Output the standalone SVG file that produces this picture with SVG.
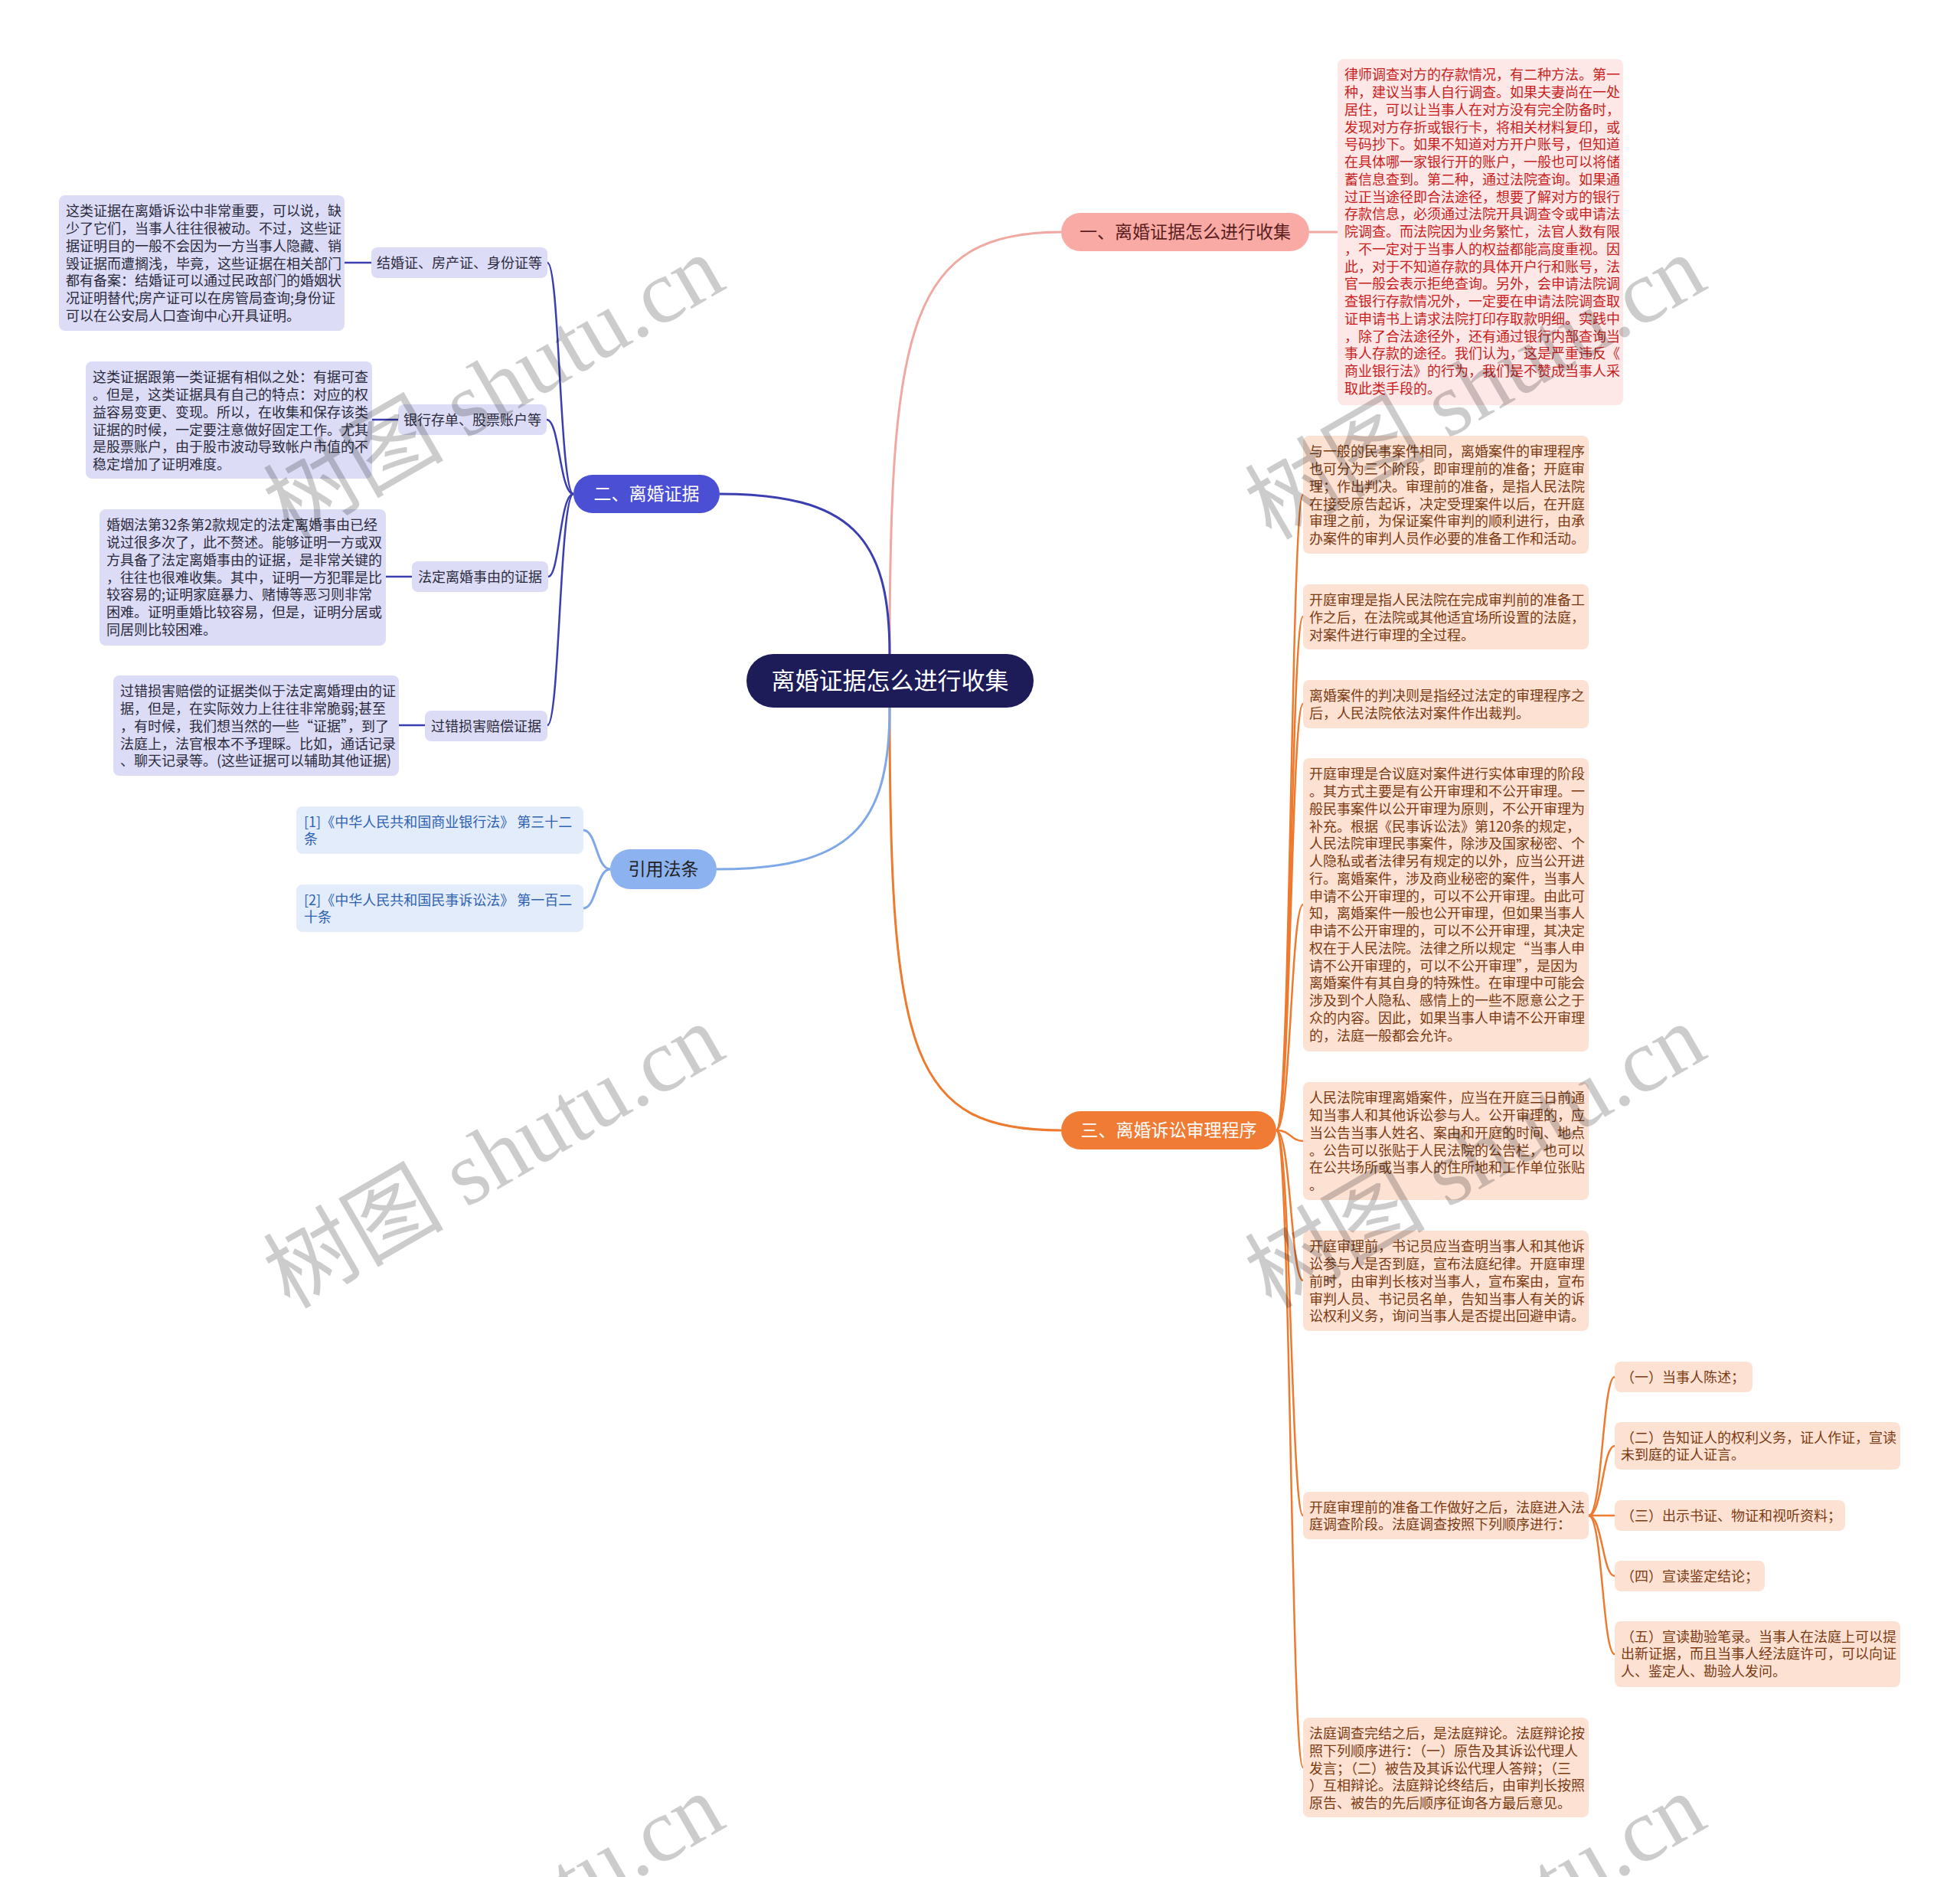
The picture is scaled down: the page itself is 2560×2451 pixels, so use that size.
<svg xmlns="http://www.w3.org/2000/svg" width="2560" height="2451" viewBox="0 0 2560 2451">
<style>
text{font-family:"Noto Sans CJK SC","Liberation Sans",sans-serif;}
.t18{font-size:18px;}
.lv{fill:#dcdcf6;}
.lvt{fill:#2b2b3d;}
.rd{fill:#fde8e7;}
.rdt{fill:#c81e1e;}
.or{fill:#fde2d4;}
.ort{fill:#7b3a12;}
.lb{fill:#e3ecfb;}
.lbt{fill:#2f63b0;}
.br{font-size:23px;}
.c-pink{fill:none;stroke:#f0a9a2;stroke-width:3;}
.c-ind{fill:none;stroke:#3a3eb0;stroke-width:3;}
.c-ind2{fill:none;stroke:#3a3eb0;stroke-width:2.5;}
.c-lb{fill:none;stroke:#7fa8e8;stroke-width:3;}
.c-or{fill:none;stroke:#ee7a2f;stroke-width:3;}
.c-or2{fill:none;stroke:#ee7a2f;stroke-width:2.5;}
.wm{font-family:"Liberation Serif","Noto Sans CJK SC",serif;font-size:118px;fill:#000;fill-opacity:0.2;}
</style>
<rect width="2560" height="2451" fill="#ffffff"/>

<g id="connectors">
<path class="c-pink" d="M1162 854 C1162 420,1190 303,1386 303"/>
<path class="c-or" d="M1162 924 C1162 1380,1190 1476,1386 1476"/>
<path class="c-ind" d="M940 645 C1110 645,1162 700,1162 854"/>
<path class="c-lb" d="M936 1135 C1110 1135,1162 1080,1162 924"/>
<path class="c-pink" d="M1710 303 L1747 303"/>
<path class="c-ind2" d="M749 645 C731 645,731 343,715 343"/>
<path class="c-ind2" d="M749 645 C731 645,731 548,714 548"/>
<path class="c-ind2" d="M749 645 C731 645,731 753,716 753"/>
<path class="c-ind2" d="M749 645 C731 645,731 947,715 947"/>
<path class="c-ind2" d="M450 343 L485 343"/>
<path class="c-ind2" d="M486 548 L520 548"/>
<path class="c-ind2" d="M504 753 L538 753"/>
<path class="c-ind2" d="M521 947 L555 947"/>
<path class="c-lb" d="M797 1135 C779 1135,779 1084,762 1084"/>
<path class="c-lb" d="M797 1135 C779 1135,779 1186,762 1186"/>
<path class="c-or2" d="M1667 1476 C1686 1476,1686 646,1702 646"/>
<path class="c-or2" d="M1667 1476 C1686 1476,1686 805,1702 805"/>
<path class="c-or2" d="M1667 1476 C1686 1476,1686 919,1702 919"/>
<path class="c-or2" d="M1667 1476 C1686 1476,1686 1181,1702 1181"/>
<path class="c-or2" d="M1667 1476 C1686 1476,1686 1490,1702 1490"/>
<path class="c-or2" d="M1667 1476 C1686 1476,1686 1672,1702 1672"/>
<path class="c-or2" d="M1667 1476 C1686 1476,1686 1979,1702 1979"/>
<path class="c-or2" d="M1667 1476 C1686 1476,1686 2308,1702 2308"/>
<path class="c-or2" d="M2075 1979 C2093 1979,2093 1798,2109 1798"/>
<path class="c-or2" d="M2075 1979 C2093 1979,2093 1888,2109 1888"/>
<path class="c-or2" d="M2075 1979 L2109 1979"/>
<path class="c-or2" d="M2075 1979 C2093 1979,2093 2058,2109 2058"/>
<path class="c-or2" d="M2075 1979 C2093 1979,2093 2160,2109 2160"/>
</g>

<g id="center">
<rect x="975" y="854" width="375" height="70" rx="35" fill="#1d1b58"/>
<text x="1162.5" y="900" font-size="31" fill="#ffffff" text-anchor="middle">离婚证据怎么进行收集</text>
</g>

<g id="branch1">
<rect x="1386" y="278" width="324" height="50" rx="25" fill="#f9aaa5"/>
<text class="br" x="1548" y="311.3" fill="#5a1e1e" text-anchor="middle">一、离婚证据怎么进行收集</text>
</g>
<g id="branch2">
<rect x="749" y="620" width="191" height="50" rx="25" fill="#4b4fd4"/>
<text class="br" x="844.5" y="653.3" fill="#ffffff" text-anchor="middle">二、离婚证据</text>
</g>
<g id="branch3">
<rect x="797" y="1109" width="139" height="52" rx="26" fill="#8cb2ef"/>
<text class="br" x="866.5" y="1143.3" fill="#222222" text-anchor="middle">引用法条</text>
</g>
<g id="branch4">
<rect x="1386" y="1451" width="281" height="50" rx="25" fill="#f07b34"/>
<text class="br" x="1526.5" y="1484.3" fill="#ffffff" text-anchor="middle">三、离婚诉讼审理程序</text>
</g>

<g id="leaf-bank">
<rect class="rd" x="1747" y="77" width="373" height="452" rx="8"/>
<text class="t18 rdt"><tspan x="1756" y="104.3">律师调查对方的存款情况，有二种方法。第一</tspan><tspan x="1756" dy="22.75">种，建议当事人自行调查。如果夫妻尚在一处</tspan><tspan x="1756" dy="22.75">居住，可以让当事人在对方没有完全防备时，</tspan><tspan x="1756" dy="22.75">发现对方存折或银行卡，将相关材料复印，或</tspan><tspan x="1756" dy="22.75">号码抄下。如果不知道对方开户账号，但知道</tspan><tspan x="1756" dy="22.75">在具体哪一家银行开的账户，一般也可以将储</tspan><tspan x="1756" dy="22.75">蓄信息查到。第二种，通过法院查询。如果通</tspan><tspan x="1756" dy="22.75">过正当途径即合法途径，想要了解对方的银行</tspan><tspan x="1756" dy="22.75">存款信息，必须通过法院开具调查令或申请法</tspan><tspan x="1756" dy="22.75">院调查。而法院因为业务繁忙，法官人数有限</tspan><tspan x="1756" dy="22.75">，不一定对于当事人的权益都能高度重视。因</tspan><tspan x="1756" dy="22.75">此，对于不知道存款的具体开户行和账号，法</tspan><tspan x="1756" dy="22.75">官一般会表示拒绝查询。另外，会申请法院调</tspan><tspan x="1756" dy="22.75">查银行存款情况外，一定要在申请法院调查取</tspan><tspan x="1756" dy="22.75">证申请书上请求法院打印存取款明细。实践中</tspan><tspan x="1756" dy="22.75">，除了合法途径外，还有通过银行内部查询当</tspan><tspan x="1756" dy="22.75">事人存款的途径。我们认为，这是严重违反《</tspan><tspan x="1756" dy="22.75">商业银行法》的行为，我们是不赞成当事人采</tspan><tspan x="1756" dy="22.75">取此类手段的。</tspan></text>
</g>

<g id="sub-marriage">
<rect class="lv" x="485" y="323" width="230" height="40" rx="8"/>
<text class="t18 lvt" x="600" y="349.5" text-anchor="middle">结婚证、房产证、身份证等</text>
</g>
<g id="leaf-marriage">
<rect class="lv" x="77" y="255" width="373" height="177" rx="8"/>
<text class="t18 lvt"><tspan x="86" y="282.3">这类证据在离婚诉讼中非常重要，可以说，缺</tspan><tspan x="86" dy="22.75">少了它们，当事人往往很被动。不过，这些证</tspan><tspan x="86" dy="22.75">据证明目的一般不会因为一方当事人隐藏、销</tspan><tspan x="86" dy="22.75">毁证据而遭搁浅，毕竟，这些证据在相关部门</tspan><tspan x="86" dy="22.75">都有备案：结婚证可以通过民政部门的婚姻状</tspan><tspan x="86" dy="22.75">况证明替代;房产证可以在房管局查询;身份证</tspan><tspan x="86" dy="22.75">可以在公安局人口查询中心开具证明。</tspan></text>
</g>

<g id="sub-bank">
<rect class="lv" x="520" y="528" width="194" height="40" rx="8"/>
<text class="t18 lvt" x="617" y="554.5" text-anchor="middle">银行存单、股票账户等</text>
</g>
<g id="leaf-bank2">
<rect class="lv" x="112" y="472" width="374" height="153" rx="8"/>
<text class="t18 lvt"><tspan x="121" y="499.3">这类证据跟第一类证据有相似之处：有据可查</tspan><tspan x="121" dy="22.75">。但是，这类证据具有自己的特点：对应的权</tspan><tspan x="121" dy="22.75">益容易变更、变现。所以，在收集和保存该类</tspan><tspan x="121" dy="22.75">证据的时候，一定要注意做好固定工作。尤其</tspan><tspan x="121" dy="22.75">是股票账户，由于股市波动导致帐户市值的不</tspan><tspan x="121" dy="22.75">稳定增加了证明难度。</tspan></text>
</g>

<g id="sub-reason">
<rect class="lv" x="538" y="733" width="178" height="40" rx="8"/>
<text class="t18 lvt" x="627" y="759.5" text-anchor="middle">法定离婚事由的证据</text>
</g>
<g id="leaf-reason">
<rect class="lv" x="130" y="665" width="374" height="178" rx="8"/>
<text class="t18 lvt"><tspan x="139" y="692.3">婚姻法第32条第2款规定的法定离婚事由已经</tspan><tspan x="139" dy="22.75">说过很多次了，此不赘述。能够证明一方或双</tspan><tspan x="139" dy="22.75">方具备了法定离婚事由的证据，是非常关键的</tspan><tspan x="139" dy="22.75">，往往也很难收集。其中，证明一方犯罪是比</tspan><tspan x="139" dy="22.75">较容易的;证明家庭暴力、赌博等恶习则非常</tspan><tspan x="139" dy="22.75">困难。证明重婚比较容易，但是，证明分居或</tspan><tspan x="139" dy="22.75">同居则比较困难。</tspan></text>
</g>

<g id="sub-fault">
<rect class="lv" x="555" y="928" width="160" height="40" rx="8"/>
<text class="t18 lvt" x="635" y="954.5" text-anchor="middle">过错损害赔偿证据</text>
</g>
<g id="leaf-fault">
<rect class="lv" x="148" y="882" width="373" height="131" rx="8"/>
<text class="t18 lvt"><tspan x="157" y="909.3">过错损害赔偿的证据类似于法定离婚理由的证</tspan><tspan x="157" dy="22.75">据，但是，在实际效力上往往非常脆弱;甚至</tspan><tspan x="157" dy="22.75">，有时候，我们想当然的一些“证据”，到了</tspan><tspan x="157" dy="22.75">法庭上，法官根本不予理睬。比如，通话记录</tspan><tspan x="157" dy="22.75">、聊天记录等。(这些证据可以辅助其他证据)</tspan></text>
</g>

<g id="law1">
<rect class="lb" x="387" y="1053" width="375" height="62" rx="8"/>
<text class="t18 lbt"><tspan x="397" y="1079.5">[1]《中华人民共和国商业银行法》 第三十二</tspan><tspan x="397" dy="22.75">条</tspan></text>
</g>
<g id="law2">
<rect class="lb" x="387" y="1155" width="375" height="62" rx="8"/>
<text class="t18 lbt"><tspan x="397" y="1181.5">[2]《中华人民共和国民事诉讼法》 第一百二</tspan><tspan x="397" dy="22.75">十条</tspan></text>
</g>

<g id="proc1">
<rect class="or" x="1702" y="569" width="373" height="154" rx="8"/>
<text class="t18 ort"><tspan x="1710" y="596.3">与一般的民事案件相同，离婚案件的审理程序</tspan><tspan x="1710" dy="22.75">也可分为三个阶段，即审理前的准备；开庭审</tspan><tspan x="1710" dy="22.75">理；作出判决。审理前的准备，是指人民法院</tspan><tspan x="1710" dy="22.75">在接受原告起诉，决定受理案件以后，在开庭</tspan><tspan x="1710" dy="22.75">审理之前，为保证案件审判的顺利进行，由承</tspan><tspan x="1710" dy="22.75">办案件的审判人员作必要的准备工作和活动。</tspan></text>
</g>
<g id="proc2">
<rect class="or" x="1702" y="763" width="373" height="85" rx="8"/>
<text class="t18 ort"><tspan x="1710" y="790.3">开庭审理是指人民法院在完成审判前的准备工</tspan><tspan x="1710" dy="22.75">作之后，在法院或其他适宜场所设置的法庭，</tspan><tspan x="1710" dy="22.75">对案件进行审理的全过程。</tspan></text>
</g>
<g id="proc3">
<rect class="or" x="1702" y="888" width="373" height="63" rx="8"/>
<text class="t18 ort"><tspan x="1710" y="915.3">离婚案件的判决则是指经过法定的审理程序之</tspan><tspan x="1710" dy="22.75">后，人民法院依法对案件作出裁判。</tspan></text>
</g>
<g id="proc4">
<rect class="or" x="1702" y="990" width="373" height="383" rx="8"/>
<text class="t18 ort"><tspan x="1710" y="1017.3">开庭审理是合议庭对案件进行实体审理的阶段</tspan><tspan x="1710" dy="22.75">。其方式主要是有公开审理和不公开审理。一</tspan><tspan x="1710" dy="22.75">般民事案件以公开审理为原则，不公开审理为</tspan><tspan x="1710" dy="22.75">补充。根据《民事诉讼法》第120条的规定，</tspan><tspan x="1710" dy="22.75">人民法院审理民事案件，除涉及国家秘密、个</tspan><tspan x="1710" dy="22.75">人隐私或者法律另有规定的以外，应当公开进</tspan><tspan x="1710" dy="22.75">行。离婚案件，涉及商业秘密的案件，当事人</tspan><tspan x="1710" dy="22.75">申请不公开审理的，可以不公开审理。由此可</tspan><tspan x="1710" dy="22.75">知，离婚案件一般也公开审理，但如果当事人</tspan><tspan x="1710" dy="22.75">申请不公开审理的，可以不公开审理，其决定</tspan><tspan x="1710" dy="22.75">权在于人民法院。法律之所以规定“当事人申</tspan><tspan x="1710" dy="22.75">请不公开审理的，可以不公开审理”，是因为</tspan><tspan x="1710" dy="22.75">离婚案件有其自身的特殊性。在审理中可能会</tspan><tspan x="1710" dy="22.75">涉及到个人隐私、感情上的一些不愿意公之于</tspan><tspan x="1710" dy="22.75">众的内容。因此，如果当事人申请不公开审理</tspan><tspan x="1710" dy="22.75">的，法庭一般都会允许。</tspan></text>
</g>
<g id="proc5">
<rect class="or" x="1702" y="1413" width="373" height="154" rx="8"/>
<text class="t18 ort"><tspan x="1710" y="1440.3">人民法院审理离婚案件，应当在开庭三日前通</tspan><tspan x="1710" dy="22.75">知当事人和其他诉讼参与人。公开审理的，应</tspan><tspan x="1710" dy="22.75">当公告当事人姓名、案由和开庭的时间、地点</tspan><tspan x="1710" dy="22.75">。公告可以张贴于人民法院的公告栏，也可以</tspan><tspan x="1710" dy="22.75">在公共场所或当事人的住所地和工作单位张贴</tspan><tspan x="1710" dy="22.75">。</tspan></text>
</g>
<g id="proc6">
<rect class="or" x="1702" y="1607" width="373" height="131" rx="8"/>
<text class="t18 ort"><tspan x="1710" y="1634.3">开庭审理前，书记员应当查明当事人和其他诉</tspan><tspan x="1710" dy="22.75">讼参与人是否到庭，宣布法庭纪律。开庭审理</tspan><tspan x="1710" dy="22.75">前时，由审判长核对当事人，宣布案由，宣布</tspan><tspan x="1710" dy="22.75">审判人员、书记员名单，告知当事人有关的诉</tspan><tspan x="1710" dy="22.75">讼权利义务，询问当事人是否提出回避申请。</tspan></text>
</g>
<g id="proc7">
<rect class="or" x="1702" y="1948" width="373" height="62" rx="8"/>
<text class="t18 ort"><tspan x="1710" y="1974.5">开庭审理前的准备工作做好之后，法庭进入法</tspan><tspan x="1710" dy="22.75">庭调查阶段。法庭调查按照下列顺序进行：</tspan></text>
</g>
<g id="proc8">
<rect class="or" x="1702" y="2243" width="373" height="130" rx="8"/>
<text class="t18 ort"><tspan x="1710" y="2270">法庭调查完结之后，是法庭辩论。法庭辩论按</tspan><tspan x="1710" dy="22.75">照下列顺序进行：（一）原告及其诉讼代理人</tspan><tspan x="1710" dy="22.75">发言；（二）被告及其诉讼代理人答辩；（三</tspan><tspan x="1710" dy="22.75">）互相辩论。法庭辩论终结后，由审判长按照</tspan><tspan x="1710" dy="22.75">原告、被告的先后顺序征询各方最后意见。</tspan></text>
</g>

<g id="step1">
<rect class="or" x="2109" y="1778" width="180" height="40" rx="8"/>
<text class="t18 ort" x="2117" y="1804.8">（一）当事人陈述；</text>
</g>
<g id="step2">
<rect class="or" x="2109" y="1857" width="373" height="62" rx="8"/>
<text class="t18 ort"><tspan x="2117" y="1883.5">（二）告知证人的权利义务，证人作证，宣读</tspan><tspan x="2117" dy="22.75">未到庭的证人证言。</tspan></text>
</g>
<g id="step3">
<rect class="or" x="2109" y="1959" width="301" height="40" rx="8"/>
<text class="t18 ort" x="2117" y="1985.8">（三）出示书证、物证和视听资料；</text>
</g>
<g id="step4">
<rect class="or" x="2109" y="2038" width="196" height="40" rx="8"/>
<text class="t18 ort" x="2117" y="2064.8">（四）宣读鉴定结论；</text>
</g>
<g id="step5">
<rect class="or" x="2109" y="2117" width="373" height="86" rx="8"/>
<text class="t18 ort"><tspan x="2117" y="2143.5">（五）宣读勘验笔录。当事人在法庭上可以提</tspan><tspan x="2117" dy="22.75">出新证据，而且当事人经法庭许可，可以向证</tspan><tspan x="2117" dy="22.75">人、鉴定人、勘验人发问。</tspan></text>
</g>

<g id="watermarks">
<text class="wm" x="645" y="546" text-anchor="middle" transform="rotate(-30 645 506)">树图 shutu.cn</text>
<text class="wm" x="645" y="1550" text-anchor="middle" transform="rotate(-30 645 1510)">树图 shutu.cn</text>
<text class="wm" x="645" y="2555" text-anchor="middle" transform="rotate(-30 645 2515)">树图 shutu.cn</text>
<text class="wm" x="1927" y="546" text-anchor="middle" transform="rotate(-30 1927 506)">树图 shutu.cn</text>
<text class="wm" x="1927" y="1550" text-anchor="middle" transform="rotate(-30 1927 1510)">树图 shutu.cn</text>
<text class="wm" x="1927" y="2555" text-anchor="middle" transform="rotate(-30 1927 2515)">树图 shutu.cn</text>
</g>
</svg>
